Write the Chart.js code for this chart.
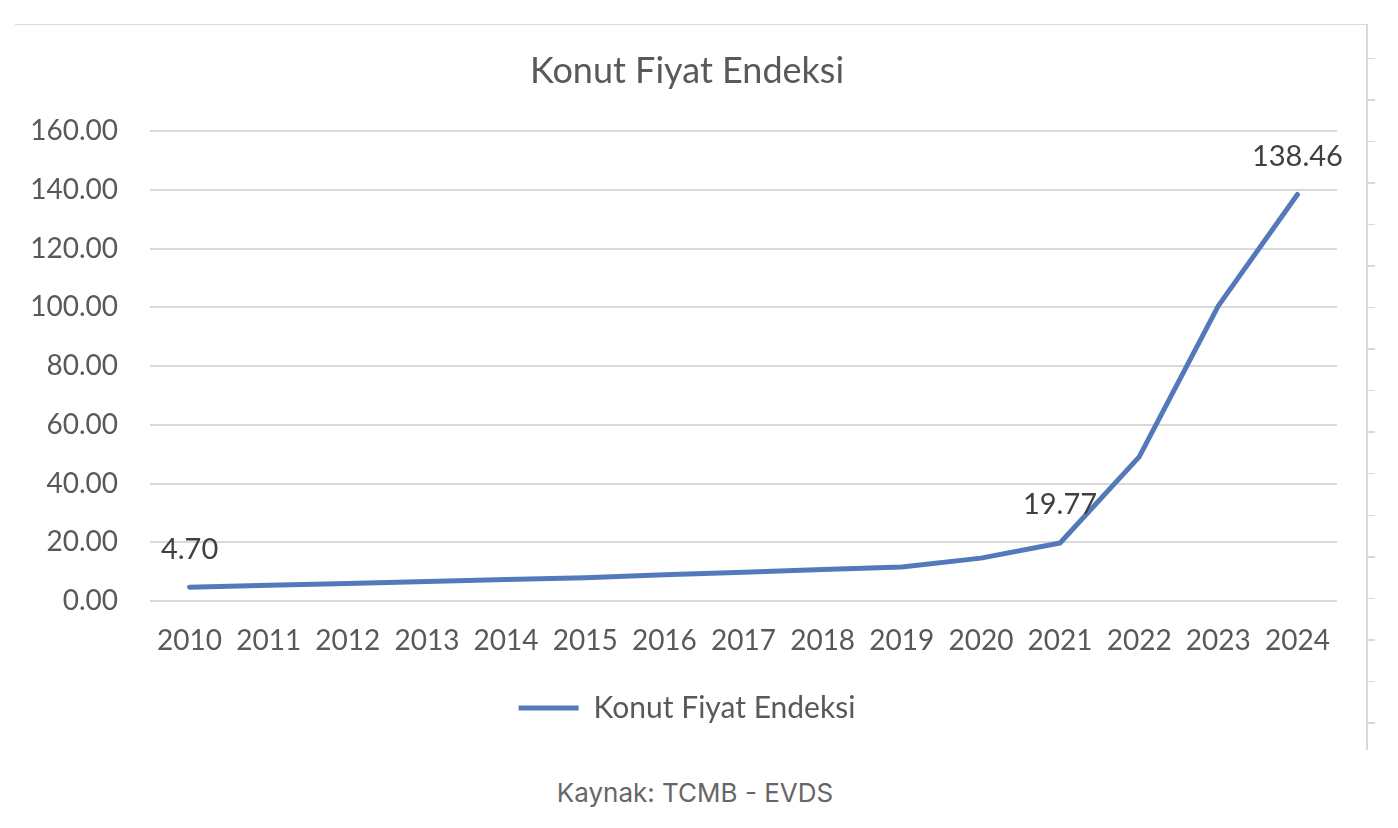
<!DOCTYPE html>
<html>
<head>
<meta charset="utf-8">
<script src="https://cdn.jsdelivr.net/npm/chart.js@4.4.1/dist/chart.umd.min.js"></script>
<style>
  html, body { margin: 0; padding: 0; background: #ffffff; }
  body { width: 1398px; height: 828px; position: relative; overflow: hidden; }
  #wrap { position: absolute; left: 0; top: 0; width: 1398px; height: 760px; }
  #topLine { position: absolute; left: 15px; top: 24px; width: 1352px; height: 1px; background: #d9d9d9; }
  #rightLine { position: absolute; left: 1366px; top: 24px; width: 2px; height: 726px; background: #d9d9d9; }
  #rightTicks { position: absolute; left: 1367px; top: 37px; width: 8px; height: 700px;
    background: repeating-linear-gradient(to bottom, transparent 0px, transparent 20.5px, #d9d9d9 20.5px, #d9d9d9 22px, transparent 22px, transparent 41.55px); }
  #caption { position: absolute; left: 0; width: 1390px; top: 777px; text-align: center;
    font-family: Inter, "Noto Sans", sans-serif; font-size: 26px; color: #666666; }
</style>
</head>
<body>
<div id="topLine"></div>
<div id="rightLine"></div>
<div id="rightTicks"></div>
<div id="wrap"><canvas id="c" width="1398" height="760"></canvas></div>
<div id="caption">Kaynak: TCMB - EVDS</div>
<script>
const years = ['2010','2011','2012','2013','2014','2015','2016','2017','2018','2019','2020','2021','2022','2023','2024'];
const indexValues = [4.70, 5.35, 6.0, 6.6, 7.3, 7.95, 8.9, 9.8, 10.7, 11.6, 14.6, 19.77, 49.1, 100.5, 138.46];
const labeledPoints = [0, 11, 14];
const seriesName = 'Konut Fiyat Endeksi';
const chartTitle = 'Konut Fiyat Endeksi';
const yMin = 0, yMax = 160, yStep = 20;

const FONT = 'Lato, "Open Sans", sans-serif';
const lineColor = '#5479bb';

const dataLabelPlugin = {
  id: 'dataLabels',
  afterDatasetsDraw(chart) {
    const ctx = chart.ctx;
    const meta = chart.getDatasetMeta(0);
    ctx.save();
    ctx.font = '29px ' + FONT;
    ctx.fillStyle = '#404040';
    ctx.textAlign = 'center';
    ctx.textBaseline = 'middle';
    labeledPoints.forEach(i => {
      const pt = meta.data[i];
      ctx.fillText(indexValues[i].toFixed(2), pt.x, pt.y - 38);
    });
    ctx.restore();
  }
};

new Chart(document.getElementById('c'), {
  type: 'line',
  data: {
    labels: years,
    datasets: [{
      label: seriesName,
      data: indexValues,
      borderColor: lineColor,
      backgroundColor: lineColor,
      borderWidth: 5,
      borderCapStyle: 'round',
      borderJoinStyle: 'round',
      pointRadius: 0,
      pointHoverRadius: 0,
      tension: 0,
      fill: false
    }]
  },
  options: {
    responsive: false,
    animation: false,
    events: [],
    layout: { padding: { left: 0, right: 24, top: 0, bottom: 27 } },
    plugins: {
      title: {
        display: true,
        text: chartTitle,
        color: '#595959',
        font: { family: FONT, size: 36, weight: 'normal' },
        padding: { top: 50, bottom: 38 }
      },
      legend: {
        display: true,
        position: 'bottom',
        labels: {
          usePointStyle: true,
          pointStyle: 'line',
          pointStyleWidth: 60,
          boxHeight: 5,
          color: '#595959',
          font: { family: FONT, size: 30 },
          padding: 10
        }
      },
      tooltip: { enabled: false }
    },
    scales: {
      x: {
        offset: true,
        grid: { display: false, drawTicks: false },
        border: { display: false },
        ticks: { color: '#595959', font: { family: FONT, size: 28 }, padding: 23, maxRotation: 0, autoSkip: false },
        afterFit(scale) { scale.height = 82; }
      },
      y: {
        min: yMin, max: yMax,
        grid: { color: '#d9d9d9', lineWidth: 2, drawTicks: false },
        border: { display: false },
        ticks: { stepSize: yStep, color: '#595959', font: { family: FONT, size: 28 }, padding: 32,
          callback: v => Number(v).toFixed(2) },
        afterFit(scale) { scale.width = 150; }
      },
      ySpacer: {
        position: 'right',
        display: true,
        grid: { display: false, drawTicks: false },
        border: { display: false },
        ticks: { display: false },
        afterFit(scale) { scale.width = 37; }
      }
    }
  },
  plugins: [dataLabelPlugin]
});
</script>
</body>
</html>
